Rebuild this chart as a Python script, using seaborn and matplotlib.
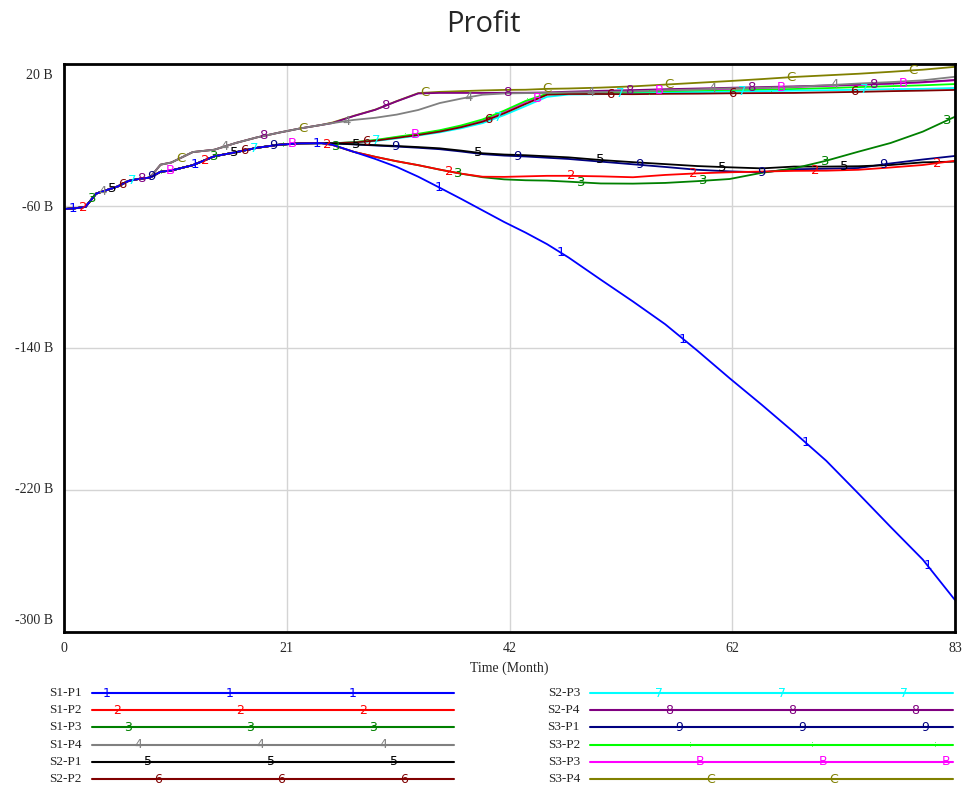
import numpy as np
import pandas as pd
import matplotlib
matplotlib.use("Agg")
import matplotlib.pyplot as plt
import seaborn as sns

# series names, the character Vensim writes along each line, and colours
series_names = ["S1-P1", "S1-P2", "S1-P3", "S1-P4", "S2-P1", "S2-P2",
                "S2-P3", "S2-P4", "S3-P1", "S3-P2", "S3-P3", "S3-P4"]
series_marks = ["1", "2", "3", "4", "5", "6", "7", "8", "9", ":", "B", "C"]
series_colors = ["#0000ff", "#ff0000", "#008000", "#808080", "#000000", "#800000",
                 "#00ffff", "#800080", "#000080", "#00ff00", "#ff00ff", "#808000"]
p4_group = ["S1-P4", "S2-P4", "S3-P4"]

# months 0-8: every series on the same path
months_early = [0, 1, 2, 3, 4, 5, 6, 7, 8]
profit_early = [-61.7, -61.3, -60.5, -53.0, -51.0, -49.0, -45.9, -44.7, -44.0]

# months 9-24: two paths (P4 products above, the rest below)
months_mid = [9, 10, 12, 14, 16, 18, 20, 22, 24]
profit_mid_low = [-40.7, -40.0, -37.0, -32.0, -29.7, -27.2, -25.5, -24.7, -24.6]
profit_mid_p4 = [-36.7, -35.5, -29.6, -28.3, -24.5, -21.3, -18.7, -16.3, -14.3]

# months 25-83: each series on its own
months_late = [25, 27, 29, 31, 33, 35, 37, 39, 41, 43, 45, 47,
               50, 53, 56, 59, 62, 65, 68, 71, 74, 77, 80, 83]
s1_p1 = [-25.5, -29.5, -33.5, -38.0, -43.5, -49.7, -56.0, -62.5, -69.0, -75.0, -81.5, -89.0,
         -101.5, -113.8, -126.6, -141.5, -157.0, -172.0, -187.5, -203.5, -222.0, -240.8, -259.2, -282.0]
s1_p2 = [-25.6, -29.5, -32.3, -34.8, -37.0, -39.5, -41.8, -43.5, -43.6, -43.3, -43.0, -43.0,
         -43.3, -43.8, -42.5, -41.6, -41.0, -40.6, -40.2, -40.1, -39.6, -38.3, -36.9, -34.5]
s1_p3 = [-25.6, -29.5, -32.3, -34.8, -37.0, -39.5, -41.8, -43.8, -45.0, -45.5, -45.7, -46.3,
         -47.3, -47.4, -47.0, -46.0, -44.8, -41.3, -38.8, -34.5, -29.4, -24.5, -18.1, -9.7]
s1_p4 = [-13.3, -11.5, -10.3, -8.5, -5.9, -2.0, 0.5, 2.7, 3.4, 3.6, 3.7, 4.0,
         4.2, 4.6, 5.2, 5.7, 6.3, 6.6, 7.1, 8.0, 9.0, 9.8, 10.8, 12.8]
s2_p1 = [-24.7, -25.2, -25.7, -26.2, -26.8, -27.5, -28.8, -30.3, -31.0, -31.4, -32.0, -32.6,
         -34.1, -35.3, -36.4, -37.5, -38.2, -38.8, -37.8, -37.8, -37.6, -36.9, -35.4, -35.0]
s2_p2 = [-24.7, -24.2, -23.2, -21.6, -20.0, -18.1, -15.6, -12.5, -7.8, -2.5, 2.7, 3.1,
         3.1, 3.0, 3.2, 3.3, 3.5, 3.6, 3.7, 4.0, 4.3, 4.7, 5.0, 5.4]
s2_p3 = [-24.7, -24.3, -23.4, -21.9, -20.3, -18.5, -16.2, -13.3, -8.8, -3.7, 1.5, 2.8,
         3.0, 3.3, 3.7, 4.1, 4.4, 4.7, 5.0, 5.2, 5.5, 5.8, 6.0, 6.5]
s2_p4 = [-13.3, -9.3, -5.8, -1.0, 3.4, 3.7, 3.7, 3.7, 3.8, 3.8, 4.0, 4.4,
         4.9, 5.3, 5.8, 6.2, 6.6, 7.0, 7.4, 7.9, 8.4, 9.0, 9.8, 11.0]
s3_p1 = [-24.7, -25.3, -25.9, -26.5, -27.2, -28.0, -29.3, -30.8, -31.6, -32.1, -32.8, -33.5,
         -35.0, -36.5, -38.0, -39.6, -40.5, -41.0, -39.3, -39.0, -38.6, -36.0, -33.8, -31.8]
s3_p2 = [-24.7, -24.0, -22.8, -21.0, -19.3, -17.3, -14.6, -11.2, -6.3, -0.8, 3.3, 3.5,
         3.7, 4.0, 4.3, 4.7, 5.0, 5.5, 5.9, 6.4, 7.0, 7.5, 8.0, 8.7]
s3_p3 = [-24.7, -24.1, -23.0, -21.3, -19.7, -17.7, -15.1, -11.8, -7.0, -1.6, 3.0, 3.3,
         4.0, 4.6, 5.2, 5.6, 5.9, 6.4, 7.0, 7.6, 8.2, 8.9, 9.6, 10.8]
s3_p4 = [-13.0, -9.2, -5.7, -0.9, 3.6, 4.3, 4.7, 5.1, 5.4, 5.5, 6.0, 6.2,
         6.7, 7.4, 8.4, 9.4, 10.4, 11.5, 12.7, 13.6, 14.5, 15.6, 16.8, 18.4]
late_values = [s1_p1, s1_p2, s1_p3, s1_p4, s2_p1, s2_p2,
               s2_p3, s2_p4, s3_p1, s3_p2, s3_p3, s3_p4]

y_ticks = [20, -60, -140, -220, -300]
y_tick_labels = ["20 B", "-60 B", "-140 B", "-220 B", "-300 B"]
x_ticks = [0, 20.75, 41.5, 62.25, 83]
x_tick_labels = ["0", "21", "42", "62", "83"]

rows = []
for name, late in zip(series_names, late_values):
    mid = profit_mid_p4 if name in p4_group else profit_mid_low
    months = months_early + months_mid + months_late
    values = profit_early + mid + late
    for m, v in zip(months, values):
        rows.append({"series": name, "month": m, "profit": v})
df = pd.DataFrame(rows)

sns.set_style("white")
serif = ["Liberation Serif", "DejaVu Serif"]
plt.rcParams["font.family"] = ["DejaVu Sans"]

fig = plt.figure(figsize=(9.64, 7.90), dpi=100)
W, H = 964, 790
ax = fig.add_axes([64 / W, 1 - 632 / H, (955 - 64) / W, (632 - 64) / H])

palette = dict(zip(series_names, series_colors))
# series 1 drawn last so it sits on top, like the original
sns.lineplot(data=df, x="month", y="profit", hue="series", hue_order=series_names[::-1],
             palette=palette, estimator=None, sort=False, legend=False, lw=1.3, ax=ax)

# characters along each line
for i, name in enumerate(series_names):
    sub = df[df["series"] == name]
    t = 0.84 + 0.91 * i
    while t <= 83:
        y = np.interp(t, sub["month"], sub["profit"])
        fs = 6 if series_marks[i] == ":" else 9.5
        ax.text(t, y, series_marks[i], color=series_colors[i], fontsize=fs,
                ha="center", va="center", zorder=5)
        t += 11.37

ax.set_xlim(0, 83)
ax.set_ylim(-300, 20)
ax.set_xticks(x_ticks)
ax.set_xticklabels(x_tick_labels, family=serif, fontsize=10)
ax.set_yticks(y_ticks)
ax.set_yticklabels([])
# y labels by hand: the end ones sit inside the frame, like Vensim does it
y_shift = [-11, -1, 0, 1, 12]
for v, lab, dy in zip(y_ticks, y_tick_labels, y_shift):
    ax.annotate(lab, xy=(0, v), xycoords=("axes fraction", "data"),
                xytext=(-8, dy * 0.72), textcoords="offset points",
                ha="right", va="center", family=serif, fontsize=10)
ax.tick_params(length=0)
ax.tick_params(axis="x", pad=7)
ax.grid(True, color="#d4d4d4", lw=1)
ax.set_axisbelow(True)
for sp in ax.spines.values():
    sp.set_color("black")
    sp.set_linewidth(2)
ax.set_xlabel("Time (Month)", family=serif, fontsize=10, labelpad=5)
ax.set_ylabel("")

fig.text(0.501, 1 - 24 / H, "Profit", ha="center", va="center", fontsize=21, family="Open Sans")

# legend block at the bottom, drawn in pixel coordinates
leg = fig.add_axes([0, 0, 1, 112 / H])
leg.set_xlim(0, W)
leg.set_ylim(790, 678)
leg.axis("off")
row_y = [693, 710.2, 727.4, 744.6, 761.8, 779]
for i, name in enumerate(series_names):
    col, r = divmod(i, 6)
    x0, x1 = (92, 454) if col == 0 else (590, 953)
    y = row_y[r]
    leg.plot([x0, x1], [y, y], color=series_colors[i], lw=1.5)
    leg.text(x0 - 10, y, name, ha="right", va="center", family=serif, fontsize=9.5)
    px = x0 + (15 if col == 0 else 69) + 10.3 * r
    while px <= x1:
        fs = 6 if series_marks[i] == ":" else 9
        leg.text(px, y, series_marks[i], color=series_colors[i], fontsize=fs,
                 ha="center", va="center")
        px += 122.7

fig.savefig("out.png", dpi=100)
